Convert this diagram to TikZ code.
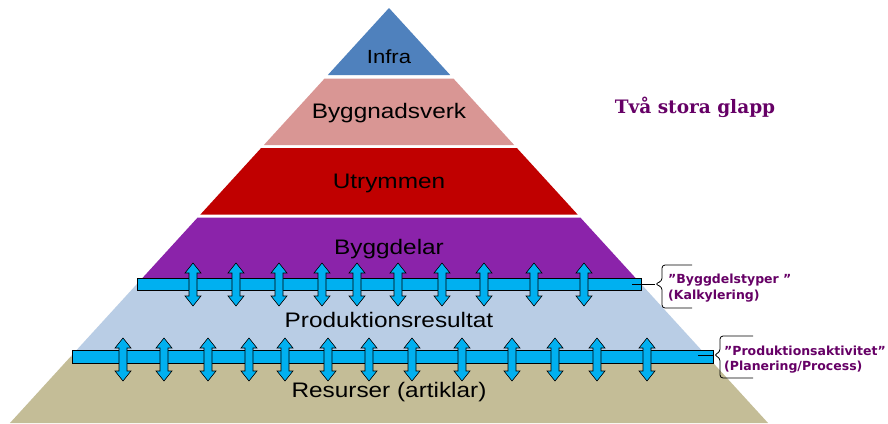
\documentclass[tikz,border=0pt]{standalone}
\usepackage{fontspec}
\setmainfont{Liberation Sans}
\newfontfamily\lblfont[FakeStretch=1.16]{Liberation Sans}
\newfontfamily\notefont{DejaVu Sans}
\newfontfamily\titlefont{DejaVu Serif}
\definecolor{cInfra}{RGB}{79,129,189}
\definecolor{cBygg}{RGB}{217,150,148}
\definecolor{cUtr}{RGB}{192,0,0}
\definecolor{cDel}{RGB}{139,35,170}
\definecolor{cProd}{RGB}{185,205,229}
\definecolor{cRes}{RGB}{196,189,151}
\definecolor{cBar}{RGB}{0,176,240}
\definecolor{cNote}{RGB}{102,0,102}
\newcommand\pyrlayer[3]{\fill[#1] ({389-0.9133*(#2-8)},#2) -- ({389+0.9133*(#2-8)},#2) -- ({389+0.9133*(#3-8)},#3) -- ({389-0.9133*(#3-8)},#3) -- cycle;}
\begin{document}
\begin{tikzpicture}[x=1pt,y=-1pt,
  lbl/.style={font=\lblfont\fontsize{21}{25}\selectfont, inner sep=0pt, anchor=base},
  note/.style={font=\notefont\bfseries\fontsize{12.5}{15}\selectfont, text=cNote, inner sep=0pt, anchor=base west},
  titletext/.style={font=\titlefont\bfseries\fontsize{18.5}{22}\selectfont, text=cNote, inner sep=0pt, anchor=base},
  barbox/.style={draw=black, line width=0.6pt, fill=cBar, inner sep=0pt, minimum height=12pt},
  arrowshape/.style={draw=black, line width=0.6pt, fill=cBar},
  brace/.style={draw=black, line width=0.8pt, rounded corners=3pt},
  link/.style={draw=black, line width=0.6pt}]
\useasboundingbox (0,0) rectangle (888,423);
\fill[white] (0,0) rectangle (888,423);
% pyramid layers
\pyrlayer{cInfra}{8}{75}
\pyrlayer{cBygg}{78.5}{145}
\pyrlayer{cUtr}{148}{214.5}
\pyrlayer{cDel}{217.5}{284}
\pyrlayer{cProd}{284}{356.5}
\pyrlayer{cRes}{356.5}{423}
% labels
\node[lbl, font=\lblfont\fontsize{19}{23}\selectfont] (infra) at (389,63) {Infra};
\node[lbl] (byggnadsverk) at (389,118) {Byggnadsverk};
\node[lbl] (utrymmen) at (389,188) {Utrymmen};
\node[lbl] (byggdelar) at (389,254) {Byggdelar};
\node[lbl] (prodres) at (389,327) {Produktionsresultat};
\node[lbl] (resurser) at (389,397) {Resurser (artiklar)};
% bars
\node[barbox, minimum width=504pt] (bar1) at (389,284) {};
\node[barbox, minimum width=641pt, minimum height=13pt] (bar2) at (392.5,356.5) {};
% arrows upper
\foreach \x in {193,236,279,322,357,398,442,484,534,584}{
  \draw[arrowshape] (\x,263) -- (\x+8,273) -- (\x+4,273) -- (\x+4,296) -- (\x+8,296) -- (\x,306) -- (\x-8,296) -- (\x-4,296) -- (\x-4,273) -- (\x-8,273) -- cycle;
}
% arrows lower
\foreach \x in {123,164,208,249,285,328,369,412,462,512,555,597,647}{
  \draw[arrowshape] (\x,338) -- (\x+8,348) -- (\x+4,348) -- (\x+4,371) -- (\x+8,371) -- (\x,381) -- (\x-8,371) -- (\x-4,371) -- (\x-4,348) -- (\x-8,348) -- cycle;
}
% braces and links
\coordinate (l1s) at (632,284);
\coordinate (br1) at (655,284);
\draw[link] (l1s) -- (br1);
\draw[brace] (692,265) -- (662,265) -- (662,281) -- (br1) -- (662,287) -- (662,308) -- (692,308);
\coordinate (l2s) at (698,355);
\coordinate (br2) at (714,355);
\draw[link] (l2s) -- (br2);
\draw[brace] (753,336) -- (720,336) -- (720,352) -- (br2) -- (720,358) -- (720,378) -- (753,378);
% notes
\node[note] (n1a) at (668,283.5) {”Byggdelstyper ”};
\node[note] (n1b) at (668,299) {(Kalkylering)};
\node[note] (n2a) at (724,355.5) {”Produktionsaktivitet”};
\node[note] (n2b) at (724,370.5) {(Planering/Process)};
% title
\node[titletext] (title) at (695,113) {Två stora glapp};
\end{tikzpicture}
\end{document}
